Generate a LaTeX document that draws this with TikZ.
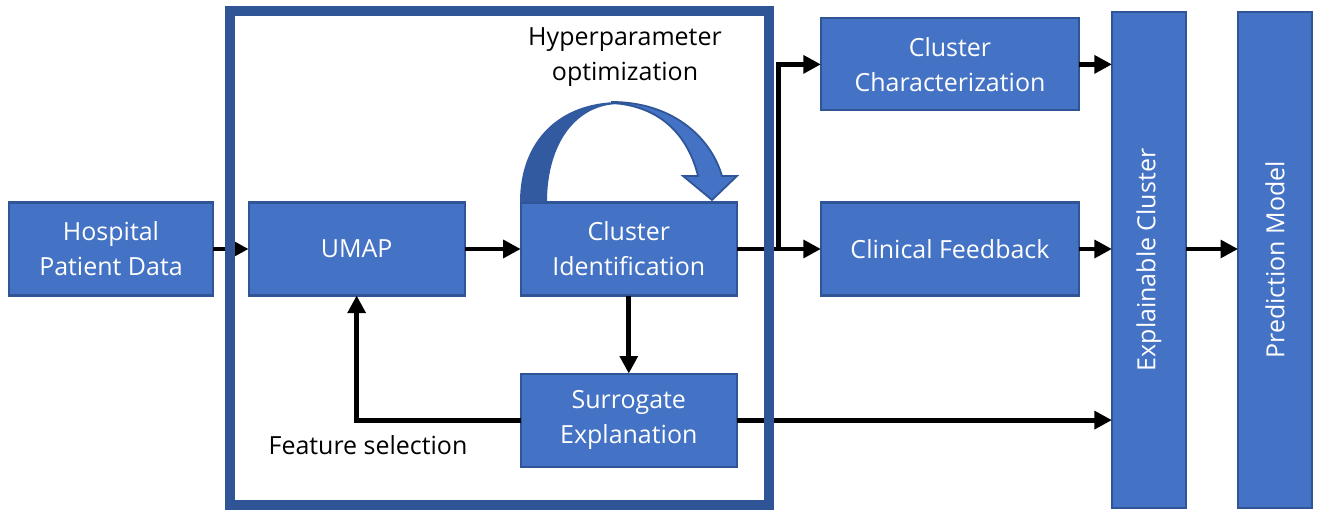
\documentclass[tikz,border=0pt]{standalone}
\usepackage{fontspec}
\setsansfont{Open Sans}
\usepackage{graphicx}
\usetikzlibrary{arrows.meta,positioning}
\definecolor{bleu}{RGB}{68,114,196}
\definecolor{bleufonce}{RGB}{47,85,151}
\definecolor{ombre}{RGB}{50,90,160}

\begin{document}
\begin{tikzpicture}[x=0.01cm, y=-0.01cm, font=\sffamily\fontsize{7.1}{10}\selectfont,
  boite/.style={draw=bleufonce, fill=bleu, line width=0.6pt, text=white, align=center, minimum width=2.16cm, minimum height=0.93cm, inner sep=1pt, outer sep=0pt},
  colonne/.style={boite, minimum width=0.74cm, minimum height=4.96cm},
  fleche/.style={-{Triangle[length=1.75mm, width=1.75mm]}, line width=1.4pt},
  cadre/.style={draw=bleufonce, line width=2.6pt},
  etiquette/.style={align=center, text=black}]
\useasboundingbox (0,0) rectangle (1317,510);
\node[boite, minimum width=2.03cm] (hosp) at (111,249) {Hospital\\Patient Data};
\node[boite, right=0.36cm of hosp] (umap) {UMAP};
\node[boite, right=0.56cm of umap] (clid) {Cluster\\Identification};
\node[boite, below=0.78cm of clid] (surr) {Surrogate\\Explanation};
\node[boite, minimum width=2.58cm, right=0.84cm of clid] (clin) {Clinical Feedback};
\node[boite, minimum width=2.58cm, minimum height=0.92cm, above=0.92cm of clin] (carac) {Cluster\\Characterization};
\node[colonne] (expl) at (1149,260) {\rotatebox{90}{Explainable Cluster}};
\node[colonne, right=0.52cm of expl] (pred) {\rotatebox{90}{Prediction Model}};
\coordinate[right=0.42cm of clid.east] (noeud);
\node[etiquette] (hyper) at (625,57) {Hyperparameter\\optimization};
\node[etiquette] (select) at (368,445) {Feature selection};
% boucle d'optimisation
\fill[ombre] (520,202) .. controls (520,140) and (560,102) .. (620,102)
  -- (620,104) .. controls (575,104) and (547,145) .. (547,202) -- cycle;
\filldraw[fill=bleu, draw=bleufonce, line width=0.5pt] (612,102) .. controls (670,102) and (710,135) .. (722,176)
  -- (737,176) -- (712,200) -- (683,176) -- (698,176) .. controls (688,135) and (660,106) .. (612,103) -- cycle;
\draw[fleche] (hosp) -- (umap);
\draw[fleche] (umap) -- (clid);
\draw[fleche] (clid) -- (clin);
\draw[fleche] (noeud) |- (carac);
\draw[fleche] (carac.east) -- (carac.east -| expl.west);
\draw[fleche] (clin.east) -- (clin.east -| expl.west);
\draw[fleche] (surr.east) -- (surr.east -| expl.west);
\draw[fleche] (clin.east -| expl.east) -- (clin.east -| pred.west);
\draw[fleche] (clid) -- (surr);
\draw[fleche] (surr.west) -| (umap);
\draw[cadre] (230,11) rectangle (769,505);
\end{tikzpicture}
\end{document}
